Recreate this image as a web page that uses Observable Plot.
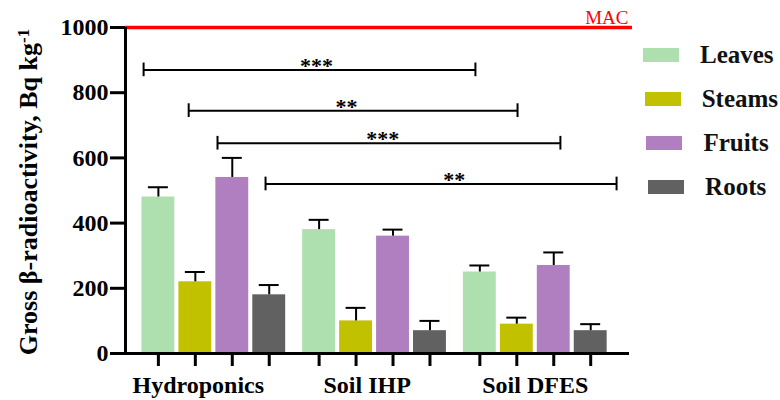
<!DOCTYPE html>
<html>
<head>
<meta charset="utf-8">
<script src="https://cdn.jsdelivr.net/npm/d3@7"></script>
<script src="https://cdn.jsdelivr.net/npm/@observablehq/plot@0.6"></script>
<style>
  html, body { margin: 0; padding: 0; background: #fff; }
  #wrap { position: relative; width: 780px; height: 400px; font-family: "Liberation Serif", "Times New Roman", serif; }
  #ytitle { position: absolute; left: 29px; top: 192px; transform: translate(-50%, -50%) rotate(-90deg);
    white-space: nowrap; font-size: 26px; font-weight: bold; line-height: 1; color: #000; }
  #ytitle sup { font-size: 17px; vertical-align: 0.45em; line-height: 0; }
  #legend { position: absolute; left: 643px; top: 0; }
  .row { position: absolute; display: flex; align-items: center; height: 30px; white-space: nowrap; }
  .sw { width: 36px; height: 14px; }
  .lab { margin-left: 21px; font-size: 25px; font-weight: bold; color: #111; }
</style>
</head>
<body>
<div id="wrap">
  <div id="chart"></div>
  <div id="ytitle">Gross β-radioactivity, Bq kg<sup>-1</sup></div>
  <div id="legend"></div>
</div>
<script>
// ---- data ----
const groups = ["Hydroponics", "Soil IHP", "Soil DFES"];
const series = ["Leaves", "Steams", "Fruits", "Roots"];
const colors = ["#aee0af", "#c2c100", "#b07fc0", "#616161"];
// mean values per group (rows) and series (cols)
const leaves = [480, 380, 250];
const steams = [220, 100, 90];
const fruits = [540, 360, 270];
const roots  = [180, 70, 70];
// error bar tops (mean + SD)
const leavesErr = [510, 410, 270];
const steamsErr = [250, 140, 110];
const fruitsErr = [600, 380, 310];
const rootsErr  = [210, 100, 90];
const yTicks = [0, 200, 400, 600, 800, 1000];
const mac = 1000;
// significance brackets (x in bar-slot units)
const bracketStart = [-0.40, 0.82, 1.60, 2.90];
const bracketEnd   = [8.58, 9.72, 10.88, 12.40];
const bracketY     = [870, 745, 645, 520];
const bracketLabel = ["***", "**", "***", "**"];
const bracketLabelX = [4.28, 5.09, 6.07, 8.01];

// ---- build table ----
const GAP = 4.35; // slot distance between groups
const vals = [leaves, steams, fruits, roots];
const errs = [leavesErr, steamsErr, fruitsErr, rootsErr];
const bars = [];
groups.forEach((g, gi) => series.forEach((s, si) => {
  bars.push({group: g, series: s, pos: gi * GAP + si, value: vals[si][gi], err: errs[si][gi]});
}));
const brackets = bracketStart.map((x1, i) => ({x1, x2: bracketEnd[i], y: bracketY[i], label: bracketLabel[i], lx: bracketLabelX[i]}));
const xMin = -0.89, xMax = 12.75;
const labelNudge = {"Hydroponics": -0.42, "Soil IHP": -0.2, "Soil DFES": 0};

const chart = Plot.plot({
  width: 640,
  height: 400,
  marginLeft: 125,
  marginRight: 11,
  marginTop: 27,
  marginBottom: 47,
  style: {fontFamily: "'Liberation Serif', 'Times New Roman', serif", color: "#000", background: "#fff", overflow: "visible"},
  x: {domain: [xMin, xMax], axis: null},
  y: {domain: [0, 1000], axis: null},
  color: {domain: series, range: colors},
  marks: [
    Plot.rect(bars, {x1: d => d.pos - 0.445, x2: d => d.pos + 0.445, y1: 0, y2: "value", fill: "series"}),
    Plot.ruleX(bars, {x: "pos", y1: "value", y2: "err", stroke: "#000", strokeWidth: 2}),
    Plot.ruleY(bars, {x1: d => d.pos - 0.27, x2: d => d.pos + 0.27, y: "err", stroke: "#000", strokeWidth: 2}),
    // MAC line
    Plot.ruleY([mac], {x1: xMin, x2: xMax + 0.08, stroke: "#ff0000", strokeWidth: 3.5}),
    Plot.text(["MAC"], {x: xMax, y: mac, text: d => d, textAnchor: "end", lineAnchor: "bottom", dy: -4, dx: -1, fill: "#ff0000", fontSize: 19}),
    // axes
    Plot.axisY({ticks: yTicks, tickSize: 15, tickPadding: 2, strokeWidth: 3, fontSize: 24, fontWeight: "bold", label: null, tickFormat: d => String(d)}),
    Plot.axisX({ticks: bars.map(d => d.pos), tickSize: 13, strokeWidth: 3, tickFormat: () => "", label: null}),
    Plot.ruleX([xMin], {y1: 0, y2: 1000, stroke: "#000", strokeWidth: 3}),
    Plot.ruleY([0], {x1: xMin, x2: xMax, stroke: "#000", strokeWidth: 3}),
    Plot.text(groups, {x: (d, i) => i * GAP + 1.5 + labelNudge[d], y: 0, text: d => d, dy: 32, fontSize: 24, fontWeight: "bold", fill: "#000"}),
    // brackets
    Plot.ruleY(brackets, {x1: "x1", x2: "x2", y: "y", stroke: "#000", strokeWidth: 2}),
    Plot.ruleX(brackets, {x: "x1", y1: d => d.y - 21, y2: d => d.y + 21, stroke: "#000", strokeWidth: 2}),
    Plot.ruleX(brackets, {x: "x2", y1: d => d.y - 21, y2: d => d.y + 21, stroke: "#000", strokeWidth: 2}),
    Plot.text(brackets, {x: "lx", y: "y", text: "label", dy: -4, fontSize: 22, fontWeight: "bold", fill: "#000"})
  ]
});
document.getElementById("chart").appendChild(chart);

// legend
const leg = document.getElementById("legend");
const rowCenters = [54.5, 98.5, 142.5, 186.5];
series.forEach((s, i) => {
  const row = document.createElement("div");
  row.className = "row";
  row.style.top = (rowCenters[i] - 15) + "px";
  row.style.left = (i * 1.7) + "px";
  row.innerHTML = `<div class="sw" style="background:${colors[i]}"></div><div class="lab">${s}</div>`;
  leg.appendChild(row);
});
</script>
</body>
</html>
